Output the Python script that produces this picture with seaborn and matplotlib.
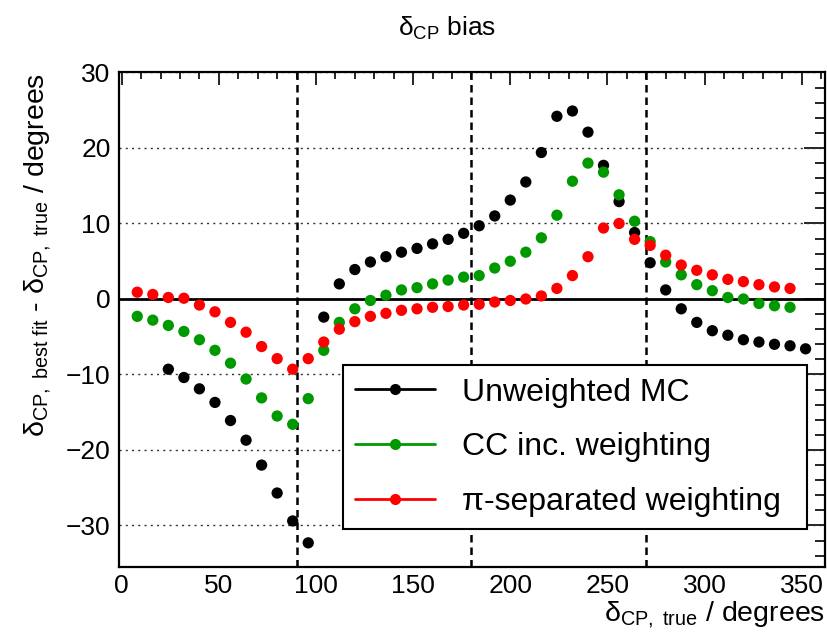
import matplotlib
matplotlib.use("Agg")
import matplotlib.pyplot as plt
from matplotlib.lines import Line2D
from matplotlib.ticker import MultipleLocator
import seaborn as sns
import pandas as pd

# ---- data ----
x_weighted = [8, 16, 24, 32, 40, 48, 56, 64, 72, 80, 88, 96, 104, 112, 120,
              128, 136, 144, 152, 160, 168, 176, 184, 192, 200, 208, 216, 224, 232, 240,
              248, 256, 264, 272, 280, 288, 296, 304, 312, 320, 328, 336, 344]
x_unweighted = [24, 32, 40, 48, 56, 64, 72, 80, 88, 96, 104, 112, 120,
                128, 136, 144, 152, 160, 168, 176, 184, 192, 200, 208, 216, 224, 232, 240,
                248, 256, 264, 272, 280, 288, 296, 304, 312, 320, 328, 336, 344, 352]

unweighted = [-9.3, -10.4, -11.9, -13.7, -16.1, -18.7, -22.0, -25.7, -29.4, -32.3, -2.4, 2.0, 3.9,
              4.9, 5.6, 6.2, 6.7, 7.3, 7.9, 8.7, 9.7, 11.0, 13.1, 15.5, 19.4, 24.2, 24.9, 22.1,
              17.7, 12.9, 8.8, 4.8, 1.2, -1.3, -3.1, -4.2, -4.8, -5.4, -5.7, -6.0, -6.2, -6.6]
cc_inc = [-2.3, -2.8, -3.5, -4.3, -5.4, -6.8, -8.5, -10.6, -13.1, -15.5, -16.6, -13.2, -6.8, -3.1, -1.3,
          -0.2, 0.5, 1.2, 1.5, 2.0, 2.5, 2.9, 3.1, 4.1, 5.0, 6.2, 8.1, 11.1, 15.6, 18.0,
          16.8, 13.8, 10.3, 7.6, 4.9, 3.2, 1.9, 1.1, 0.2, 0.0, -0.6, -0.9, -1.1]
pi_sep = [0.9, 0.6, 0.2, 0.1, -0.8, -1.7, -3.1, -4.4, -6.3, -7.9, -9.3, -7.9, -5.7, -4.0, -3.0,
          -2.3, -1.9, -1.5, -1.3, -1.1, -1.0, -0.8, -0.7, -0.4, -0.2, 0.0, 0.4, 1.4, 3.1, 5.6,
          9.4, 10.0, 7.9, 7.1, 5.8, 4.5, 3.8, 3.2, 2.6, 2.3, 1.9, 1.6, 1.4]

labels = ["Unweighted MC", "CC inc. weighting", "π-separated weighting"]
colors = ["#000000", "#009a00", "#ff0000"]
ref_lines = [90, 180, 270]

df = pd.concat([
    pd.DataFrame({"x": x_unweighted, "y": unweighted, "s": labels[0]}),
    pd.DataFrame({"x": x_weighted, "y": cc_inc, "s": labels[1]}),
    pd.DataFrame({"x": x_weighted, "y": pi_sep, "s": labels[2]}),
])

sns.set_theme(style="white")
plt.rcParams["font.family"] = ["Liberation Sans", "DejaVu Sans"]
plt.rcParams["mathtext.fontset"] = "custom"
plt.rcParams["mathtext.rm"] = "Liberation Sans"
plt.rcParams["mathtext.it"] = "Liberation Sans:italic"
plt.rcParams["mathtext.sf"] = "Liberation Sans"
plt.rcParams["mathtext.cal"] = "Liberation Sans"
plt.rcParams["text.color"] = "black"
plt.rcParams["axes.labelcolor"] = "black"
plt.rcParams["xtick.color"] = "black"
plt.rcParams["ytick.color"] = "black"

fig = plt.figure(figsize=(8.28, 6.35), dpi=100)
ax = fig.add_axes([119 / 828, 1 - 567 / 635, 706 / 828, 494.5 / 635])

# grid and reference lines
for yv in [-30, -20, -10, 10, 20, 30]:
    ax.axhline(yv, color="#333333", lw=1.0, ls=(0, (1.5, 3)), zorder=1)
ax.axhline(0, color="black", lw=2.0, zorder=2)
for xv in ref_lines:
    ax.axvline(xv, color="black", lw=1.8, ls=(0, (3, 2)), zorder=2)

sns.scatterplot(data=df, x="x", y="y", hue="s", palette=dict(zip(labels, colors)),
                s=66, linewidth=0, legend=False, ax=ax, zorder=3)

ax.set_xlim(-1.4, 362)
ax.set_ylim(-35.5, 30)
ax.xaxis.set_major_locator(MultipleLocator(50))
ax.xaxis.set_minor_locator(MultipleLocator(10))
ax.yaxis.set_major_locator(MultipleLocator(10))
ax.yaxis.set_minor_locator(MultipleLocator(2))
ax.tick_params(axis="both", which="both", direction="in", top=True, right=True,
               color="black", labelcolor="black", width=1.2, labelsize=19)
ax.tick_params(axis="x", which="major", length=9, pad=5)
ax.tick_params(axis="x", which="minor", length=5)
ax.tick_params(axis="y", which="major", length=15, pad=6)
ax.tick_params(axis="y", which="minor", length=7)
for sp in ax.spines.values():
    sp.set_color("black")
    sp.set_linewidth(1.6)

ax.set_xlabel(r"$\mathrm{\delta_{CP,\ true}}$ / degrees", fontsize=20.5, loc="right",
              labelpad=1, color="black")
ax.set_ylabel(r"$\mathrm{\delta_{CP,\ best\ fit}}$ - $\mathrm{\delta_{CP,\ true}}$ / degrees",
              fontsize=20.5, loc="top", labelpad=9, color="black")

fig.text(447 / 828, 1 - 28 / 635, r"$\mathrm{\delta_{CP}}$ bias", fontsize=19,
         ha="center", va="center", color="black")

handles = [Line2D([0], [0], color=c, lw=2, marker="o", markersize=8, markeredgewidth=0)
           for c in colors]
leg = ax.legend(handles, labels, loc="lower left", mode="expand",
                bbox_to_anchor=(0.317, 0.077, 0.658, 0.331), borderaxespad=0,
                fontsize=23, frameon=True, fancybox=False, edgecolor="black",
                framealpha=1, handlelength=2.5, handletextpad=0.85,
                labelspacing=0.77, borderpad=0.38)
leg.get_frame().set_linewidth(1.5)
for t in leg.get_texts():
    t.set_color("black")
leg.set_zorder(5)

fig.savefig("out.png", dpi=100)
